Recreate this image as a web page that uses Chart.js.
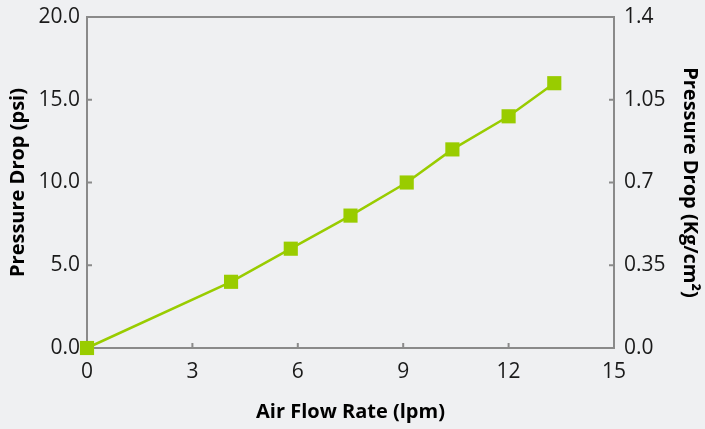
<!DOCTYPE html>
<html>
<head>
<meta charset="utf-8">
<script src="https://cdn.jsdelivr.net/npm/chart.js@4/dist/chart.umd.min.js"></script>
<style>
  html, body { margin: 0; padding: 0; background: #eff0f2; }
  #wrap { width: 705px; height: 429px; }
</style>
</head>
<body>
<div id="wrap"><canvas id="chart"></canvas></div>
<script>
// air flow (lpm) vs pressure drop (psi)
const airFlow = [0, 4.1, 5.8, 7.5, 9.1, 10.4, 12.0, 13.3];
const pressurePsi = [0, 4, 6, 8, 10, 12, 14, 16];

const xTicks = [0, 3, 6, 9, 12, 15];
const psiTicks = [0, 5, 10, 15, 20];
const kgTicks = [0, 0.35, 0.7, 1.05, 1.4];
const kgTickLabels = ['0.0', '0.35', '0.7', '1.05', '1.4'];

const axisGray = '#8a8a8a';
const green = '#99cc00';
const font = 'Open Sans';

// frame + inward tick marks, drawn under the markers
const framePlugin = {
  id: 'frame',
  beforeDatasetsDraw(chart) {
    const { ctx, chartArea: a, scales } = chart;
    ctx.save();
    ctx.strokeStyle = axisGray;
    ctx.lineWidth = 2;
    ctx.strokeRect(a.left, a.top, a.right - a.left, a.bottom - a.top);
    ctx.beginPath();
    xTicks.forEach(v => {
      const px = scales.x.getPixelForValue(v);
      ctx.moveTo(px, a.bottom); ctx.lineTo(px, a.bottom - 5);
    });
    psiTicks.forEach(v => {
      const py = scales.y.getPixelForValue(v);
      ctx.moveTo(a.left, py); ctx.lineTo(a.left + 5, py);
    });
    kgTicks.forEach(v => {
      const py = scales.y2.getPixelForValue(v);
      ctx.moveTo(a.right, py); ctx.lineTo(a.right - 5, py);
    });
    ctx.stroke();
    ctx.restore();
  }
};

const tickFont = { family: font, size: 21 };
const titleFont = { family: font, size: 20, weight: 'bold' };

function fitY(width) {
  return s => { s.width = width; s.paddingTop = 0; s.paddingBottom = 0; };
}

new Chart(document.getElementById('chart'), {
  type: 'scatter',
  data: {
    datasets: [{
      data: airFlow.map((x, i) => ({ x, y: pressurePsi[i] })),
      showLine: true,
      borderColor: green,
      borderWidth: 2.5,
      backgroundColor: green,
      pointStyle: 'rect',
      pointRadius: 10,
      pointHoverRadius: 10,
      pointBorderWidth: 0,
      clip: false,
      yAxisID: 'y'
    }]
  },
  options: {
    responsive: true,
    maintainAspectRatio: false,
    animation: false,
    layout: { padding: { top: 17, left: 0, right: 0, bottom: 0 } },
    plugins: { legend: { display: false }, tooltip: { enabled: false } },
    scales: {
      x: {
        type: 'linear', min: 0, max: 15,
        afterBuildTicks: s => { s.ticks = xTicks.map(v => ({ value: v })); },
        afterFit: s => { s.height = 81; s.paddingLeft = 0; s.paddingRight = 0; },
        grid: { display: false, drawTicks: false },
        border: { display: false },
        ticks: { font: tickFont, color: '#1a1a1a', padding: 11, maxRotation: 0 },
        title: { display: true, text: 'Air Flow Rate (lpm)', font: titleFont, color: '#000', padding: { top: 0, bottom: 5 } }
      },
      y: {
        type: 'linear', position: 'left', min: 0, max: 20,
        afterBuildTicks: s => { s.ticks = psiTicks.map(v => ({ value: v })); },
        afterFit: fitY(87),
        grid: { display: false, drawTicks: false },
        border: { display: false },
        ticks: { font: tickFont, color: '#1a1a1a', padding: 7, callback: v => v.toFixed(1) },
        title: { display: true, text: 'Pressure Drop (psi)', font: titleFont, color: '#000', padding: { top: 6, bottom: 0 } }
      },
      y2: {
        type: 'linear', position: 'right', min: 0, max: 1.4,
        afterBuildTicks: s => { s.ticks = kgTicks.map(v => ({ value: v })); },
        afterFit: fitY(91),
        grid: { display: false, drawTicks: false },
        border: { display: false },
        ticks: { font: tickFont, color: '#1a1a1a', padding: 10,
          callback: v => kgTickLabels[kgTicks.indexOf(v)] },
        title: { display: true, text: 'Pressure Drop (Kg/cm²)', font: titleFont, color: '#000', padding: { top: 3, bottom: 0 } }
      }
    }
  },
  plugins: [framePlugin]
});
</script>
</body>
</html>
